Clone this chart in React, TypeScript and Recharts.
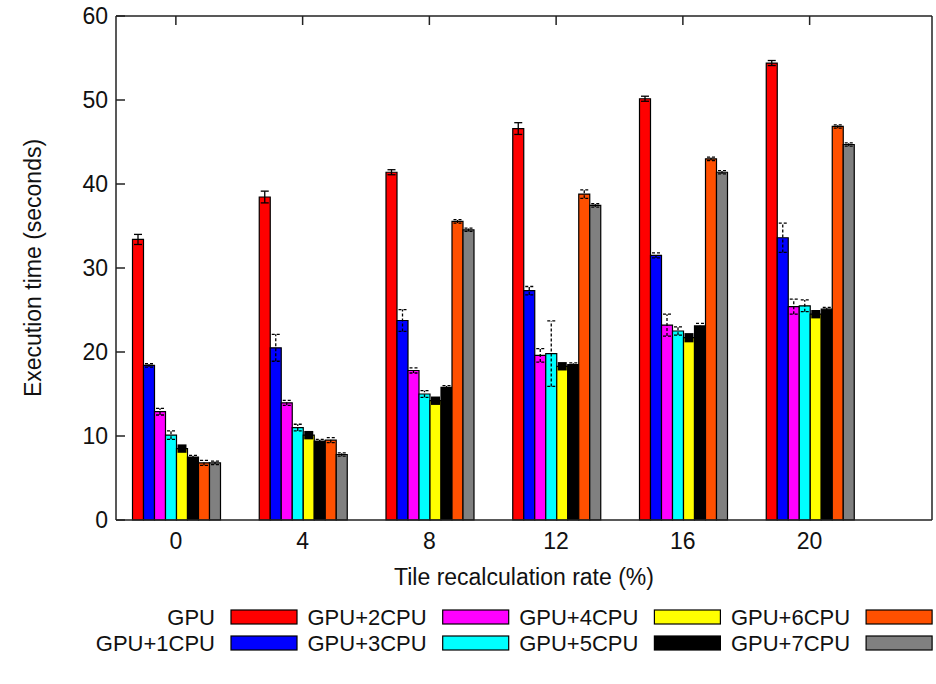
import { Bar, BarChart, ErrorBar, Legend, XAxis, YAxis } from "recharts";

const rates = ["0", "4", "8", "12", "16", "20"];
const seriesNames = [
  "GPU",
  "GPU+1CPU",
  "GPU+2CPU",
  "GPU+3CPU",
  "GPU+4CPU",
  "GPU+5CPU",
  "GPU+6CPU",
  "GPU+7CPU",
];

// execution time (seconds) per tile recalculation rate
const gpu = [33.4, 38.45, 41.4, 46.6, 50.15, 54.4];
const gpu1CPU = [18.4, 20.5, 23.75, 27.3, 31.5, 33.6];
const gpu2CPU = [12.9, 13.95, 17.8, 19.6, 23.2, 25.4];
const gpu3CPU = [10.1, 11.0, 15.0, 19.8, 22.5, 25.5];
const gpu4CPU = [8.5, 10.1, 14.2, 18.3, 21.7, 24.5];
const gpu5CPU = [7.5, 9.4, 15.8, 18.5, 23.1, 25.1];
const gpu6CPU = [6.8, 9.5, 35.55, 38.8, 43.0, 46.85];
const gpu7CPU = [6.8, 7.8, 34.55, 37.45, 41.4, 44.7];

// error bar half-ranges
const gpuErr = [0.6, 0.7, 0.3, 0.7, 0.3, 0.3];
const gpu1CPUErr = [0.2, 1.6, 1.3, 0.5, 0.3, 1.75];
const gpu2CPUErr = [0.4, 0.3, 0.3, 0.8, 1.3, 0.9];
const gpu3CPUErr = [0.5, 0.4, 0.4, 3.9, 0.5, 0.7];
const gpu4CPUErr = [0.5, 0.5, 0.5, 0.5, 0.55, 0.5];
const gpu5CPUErr = [0.2, 0.2, 0.2, 0.2, 0.3, 0.2];
const gpu6CPUErr = [0.3, 0.3, 0.2, 0.5, 0.2, 0.2];
const gpu7CPUErr = [0.2, 0.2, 0.2, 0.2, 0.2, 0.2];

const yTicks = [0, 10, 20, 30, 40, 50, 60];

const values = [gpu, gpu1CPU, gpu2CPU, gpu3CPU, gpu4CPU, gpu5CPU, gpu6CPU, gpu7CPU];
const errors = [
  gpuErr,
  gpu1CPUErr,
  gpu2CPUErr,
  gpu3CPUErr,
  gpu4CPUErr,
  gpu5CPUErr,
  gpu6CPUErr,
  gpu7CPUErr,
];

const COLORS = [
  "#ff0000",
  "#0000ff",
  "#ff00ff",
  "#00ffff",
  "#ffff00",
  "#000000",
  "#ff5000",
  "#808080",
];

const TEXT = "#111";
const AXIS = "#222";
const FONT_SIZE = 23;

const data = rates.map((rate, i) => {
  const row: Record<string, string | number> = { rate };
  values.forEach((series, k) => {
    row[`s${k}`] = series[i];
    row[`e${k}`] = errors[k][i];
  });
  return row;
});

function YTitle(props: any) {
  const { viewBox } = props;
  const cx = viewBox.x + 33;
  const cy = viewBox.y + viewBox.height / 2;
  return (
    <text
      x={cx}
      y={cy}
      transform={`rotate(-90 ${cx} ${cy})`}
      textAnchor="middle"
      dominantBaseline="central"
      fontSize={FONT_SIZE}
      fill={TEXT}
    >
      Execution time (seconds)
    </text>
  );
}

// gnuplot style key: label right-aligned, swatch after it, two rows
function KeyBox() {
  return (
    <svg width={936} height={64}>
      {seriesNames.map((name, k) => {
        const col = Math.floor(k / 2);
        const row = k % 2;
        const right = 215 + col * 211.7;
        const cy = 14 + row * 26;
        return (
          <g key={name}>
            <text
              x={right}
              y={cy}
              textAnchor="end"
              dominantBaseline="central"
              fontSize={22}
              fill={TEXT}
            >
              {name}
            </text>
            <rect
              x={right + 16}
              y={cy - 7}
              width={66}
              height={14}
              fill={COLORS[k]}
              stroke="#000"
              strokeWidth={1.2}
            />
          </g>
        );
      })}
    </svg>
  );
}

export default function App() {
  return (
    <div
      style={{
        position: "absolute",
        left: 0,
        top: 0,
        width: 936,
        height: 684,
        background: "#fff",
        fontFamily: "'Liberation Sans', Arial, sans-serif",
      }}
    >
      <BarChart
        width={936}
        height={684}
        data={data}
        margin={{ top: 15, right: 3, bottom: 94, left: 0 }}
        barCategoryGap={20}
        barGap={0}
      >
        <XAxis
          dataKey="rate"
          height={70}
          interval={0}
          padding={{ left: -3.5, right: 59 }}
          tickSize={0}
          tickMargin={13}
          tick={{ fontSize: FONT_SIZE, fill: TEXT }}
          axisLine={{ stroke: AXIS, strokeWidth: 1.5 }}
          label={{
            value: "Tile recalculation rate (%)",
            position: "insideBottom",
            offset: 5,
            fontSize: FONT_SIZE,
            fill: TEXT,
          }}
        />
        <XAxis
          xAxisId="top"
          dataKey="rate"
          orientation="top"
          height={1}
          interval={0}
          padding={{ left: -3.5, right: 59 }}
          tickSize={-9}
          tickFormatter={() => ""}
          tickLine={{ stroke: AXIS, strokeWidth: 1.5 }}
          axisLine={{ stroke: AXIS, strokeWidth: 1.5 }}
        />
        <YAxis
          yAxisId="left"
          domain={[0, 60]}
          ticks={yTicks}
          interval={0}
          width={116}
          tickSize={-9}
          tickMargin={17}
          tick={{ fontSize: FONT_SIZE, fill: TEXT }}
          tickLine={{ stroke: AXIS, strokeWidth: 1.5 }}
          axisLine={{ stroke: AXIS, strokeWidth: 1.5 }}
          label={<YTitle />}
        />
        <YAxis
          yAxisId="right"
          orientation="right"
          domain={[0, 60]}
          ticks={yTicks}
          interval={0}
          width={1}
          tickSize={-9}
          tickFormatter={() => ""}
          tickLine={{ stroke: AXIS, strokeWidth: 1.5 }}
          axisLine={{ stroke: AXIS, strokeWidth: 1.5 }}
        />
        <Legend
          layout="horizontal"
          verticalAlign="middle"
          align="center"
          wrapperStyle={{ left: 0, top: 603, width: 936 }}
          content={() => <KeyBox />}
        />
        {seriesNames.map((name, k) => (
          <Bar
            key={name}
            yAxisId="left"
            dataKey={`s${k}`}
            name={name}
            fill={COLORS[k]}
            stroke="#000"
            strokeWidth={1.2}
            isAnimationActive={false}
          >
            {k === 4 ? (
              <ErrorBar dataKey={`e${k}`} width={0} stroke="#000" strokeWidth={9} />
            ) : (
              <ErrorBar
                dataKey={`e${k}`}
                width={4}
                stroke="#000"
                strokeWidth={1.3}
                strokeDasharray={k === 0 ? undefined : "3 2"}
              />
            )}
          </Bar>
        ))}
      </BarChart>
    </div>
  );
}
